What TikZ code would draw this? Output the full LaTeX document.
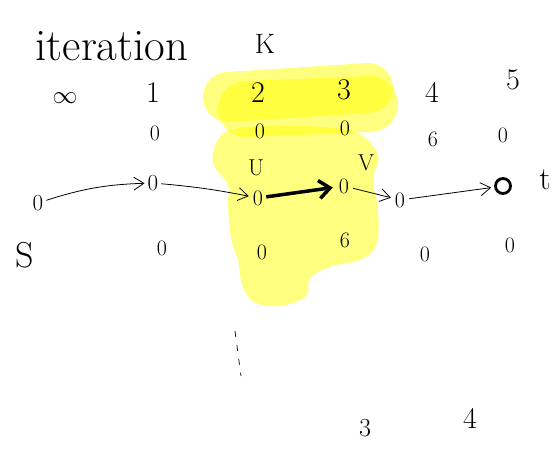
\documentclass[tikz,border=0pt]{standalone}
\usetikzlibrary{arrows.meta}
\definecolor{hly}{RGB}{255,255,0}
\begin{document}
\begin{tikzpicture}[x=1pt,y=-1pt,
  hl/.style={line width=#1, line cap=round, draw=hly, opacity=0.5},
  big/.style={font=\fontsize{30}{32}\selectfont, inner sep=0pt},
  mid/.style={font=\fontsize{23}{25}\selectfont, inner sep=0pt},
  small/.style={font=\fontsize{22}{24}\selectfont, inner sep=1pt},
  arr/.style={-{Straight Barb[length=10pt,width=13pt]}, line width=0.8pt, shorten <=3pt, shorten >=3pt},
  thickarr/.style={-{Straight Barb[length=11pt,width=18pt,line width=3.5pt]}, line width=3.5pt, shorten <=2pt, shorten >=5pt}
]
\useasboundingbox (0,0) rectangle (560,448);
% yellow highlight
\fill[hly, opacity=0.5] plot[smooth cycle, tension=0.6] coordinates {
  (240,128) (300,126) (355,132) (378,155) (373,180) (378,210) (377,243)
  (362,259) (330,267) (310,278) (306,296) (280,306) (254,302) (242,284)
  (238,260) (231,238) (228,205) (228,185) (213,163) (219,138)};
\draw[hl=50pt] (228,97) -- (368,88);
\draw[hl=56pt] (246,109) -- (370,104);
% title
\node[font=\fontsize{45}{48}\selectfont, inner sep=0pt] (title) at (112,46) {iteration};
\node[font=\fontsize{28}{30}\selectfont, inner sep=0pt] (K) at (265,44) {K};
% header row
\node[big] (h0) at (65,98) {$\infty$};
\node[big] (h1) at (153,93) {1};
\node[big] (h2) at (258,93) {2};
\node[big] (h3) at (344,90) {3};
\node[big] (h4) at (432,92) {4};
\node[big] (h5) at (513,80) {5};
% row 1
\node[small] (a1) at (155,133) {0};
\node[small] (a2) at (260,131) {0};
\node[small] (a3) at (345,128) {0};
\node[small] (a4) at (433,139) {6};
\node[small] (a5) at (503,135) {0};
% row 2
\node[mid] (b0) at (38,203) {0};
\node[mid] (b1) at (153,183) {0};
\node[small] (b2) at (258,198) {0};
\node[small] (b3) at (344,186) {0};
\node[small] (b4) at (400,200) {0};
\node[draw, circle, line width=2.8pt, minimum size=15pt, inner sep=0pt] (bt) at (503,186) {};
\node[font=\fontsize{32}{34}\selectfont, inner sep=0pt] (t) at (545,180) {t};
\node[mid] (U) at (256,168) {U};
\node[mid] (V) at (366,163) {V};
% row 3
\node[font=\fontsize{36}{38}\selectfont, inner sep=0pt] (s) at (25,255) {S};
\node[small] (c1) at (162,248) {0};
\node[small] (c2) at (262,252) {0};
\node[small] (c3) at (345,240) {6};
\node[small] (c4) at (425,254) {0};
\node[small] (c5) at (510,245) {0};
% arrows
\draw[arr] (b0) to[bend left=8] (b1);
\draw[arr] (b1) to[bend left=3] (b2);
\draw[thickarr] (b2) -- (b3);
\draw[arr] (b3) -- (b4);
\draw[arr] (b4) -- (bt);
% dashed i
\draw[line width=0.7pt, dash pattern=on 6pt off 8pt] (235,331) -- (241,376);
% bottom numbers
\node[font=\fontsize{26}{28}\selectfont, inner sep=0pt] (n3) at (365,428) {3};
\node[big] (n4) at (470,418) {4};
\end{tikzpicture}
\end{document}
